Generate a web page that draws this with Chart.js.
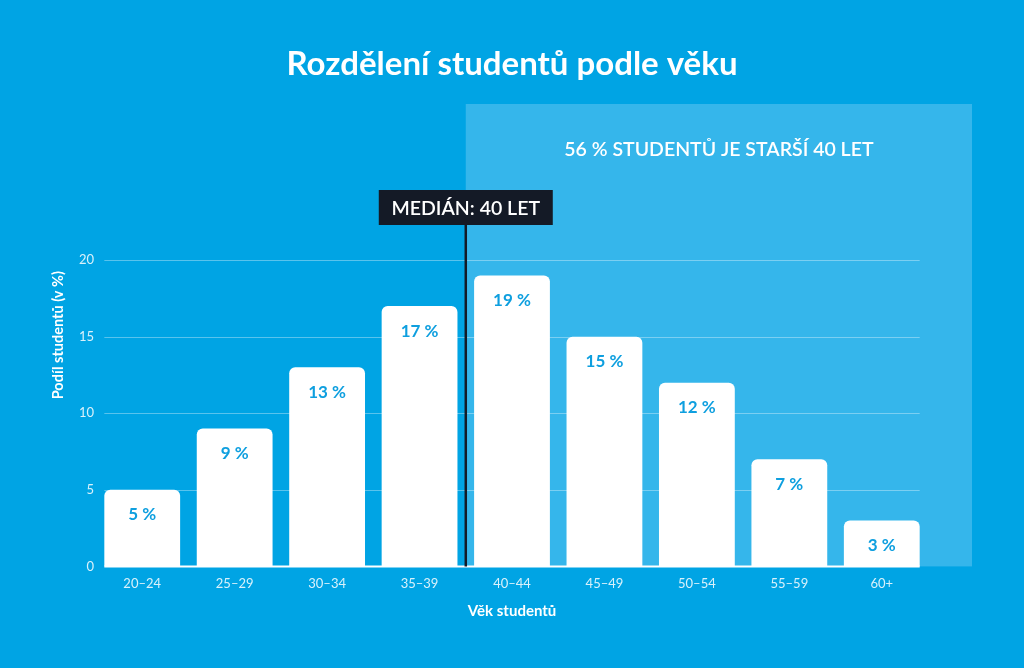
<!doctype html>
<html lang="cs">
  <head>
    <meta charset="utf-8">
    <title>Rozdělení studentů podle věku</title>
    <script src="https://cdn.jsdelivr.net/npm/chart.js"></script>
    <style>
      html, body { margin: 0; padding: 0; background: #00a4e4; }
      #wrap { width: 1024px; height: 668px; }
    </style>
  </head>
  <body>
    <div id="wrap"><canvas id="chart"></canvas></div>

    <script>
    // data
    const ageGroups = ['20–24', '25–29', '30–34', '35–39', '40–44', '45–49', '50–54', '55–59', '60+'];
    const shareOfStudents = [5, 9, 13, 17, 19, 15, 12, 7, 3];
    const yTickValues = [0, 5, 10, 15, 20];
    const medianIndex = 4;   // median falls on the boundary before 40–44
    const titleText = 'Rozdělení studentů podle věku';
    const medianText = 'MEDIÁN: 40 LET';
    const olderText = '56 % STUDENTŮ JE STARŠÍ 40 LET';

    const FONT = 'Lato, "Noto Sans", sans-serif';

    function medianX(chart) {
      const x = chart.scales.x;
      return (x.getPixelForValue(medianIndex - 1) + x.getPixelForValue(medianIndex)) / 2;
    }

    // lighter 40+ box, title, grid lines that stop at the outer bar edges
    const backPlugin = {
      id: 'back',
      beforeDatasetsDraw(chart) {
        const c = chart.ctx, y = chart.scales.y, a = chart.chartArea;
        const bars = chart.getDatasetMeta(0).data;
        const left = medianX(chart);
        const boxRight = chart.width - 52;
        c.save();
        c.fillStyle = '#35b6eb';
        c.fillRect(left, a.top, boxRight - left, a.bottom - a.top);
        c.fillStyle = '#ffffff';
        c.font = '600 19.5px ' + FONT;
        c.textAlign = 'center';
        c.textBaseline = 'middle';
        c.fillText(olderText, (left + boxRight) / 2, a.top + 46);

        c.font = 'bold 33px ' + FONT;
        c.fillText(titleText, chart.width / 2, 64);

        const gx0 = bars[0].x - bars[0].width / 2;
        const gx1 = bars[bars.length - 1].x + bars[bars.length - 1].width / 2;
        yTickValues.forEach(v => {
          const py = Math.round(y.getPixelForValue(v)) + 0.5;
          c.strokeStyle = v === 0 ? '#ffffff' : 'rgba(255,255,255,0.35)';
          c.lineWidth = v === 0 ? 2 : 1.2;
          c.beginPath();
          c.moveTo(gx0, py);
          c.lineTo(gx1, py);
          c.stroke();
        });
        c.restore();
      }
    };

    // value labels inside bars + median marker
    const overlayPlugin = {
      id: 'overlay',
      afterDatasetsDraw(chart) {
        const c = chart.ctx, a = chart.chartArea;
        const meta = chart.getDatasetMeta(0);
        c.save();
        c.fillStyle = '#0e9fdf';
        c.font = 'bold 17px ' + FONT;
        c.textAlign = 'center';
        c.textBaseline = 'middle';
        meta.data.forEach((bar, i) => {
          c.fillText(shareOfStudents[i] + ' %', bar.x, bar.y + 25);
        });

        const mx = medianX(chart);
        const boxTop = a.top + 86, boxH = 35, boxW = 174;
        c.strokeStyle = '#141a26';
        c.lineWidth = 2.5;
        c.beginPath();
        c.moveTo(mx, boxTop + boxH);
        c.lineTo(mx, a.bottom);
        c.stroke();
        c.fillStyle = '#141a26';
        c.fillRect(mx - boxW / 2, boxTop, boxW, boxH);
        c.fillStyle = '#ffffff';
        c.font = '600 19.5px ' + FONT;
        c.fillText(medianText, mx, boxTop + boxH / 2 + 1);
        c.restore();
      }
    };

    new Chart(document.getElementById('chart'), {
      type: 'bar',
      data: {
        labels: ageGroups,
        datasets: [{
          data: shareOfStudents,
          backgroundColor: '#ffffff',
          borderRadius: { topLeft: 6, topRight: 6 },
          borderSkipped: 'bottom',
          barPercentage: 0.82,
          categoryPercentage: 1
        }]
      },
      options: {
        responsive: true,
        maintainAspectRatio: false,
        animation: false,
        layout: { padding: { left: 0, right: 96, bottom: 44 } },
        plugins: {
          legend: { display: false },
          tooltip: { enabled: false },
          title: {
            // keeps the space; the text itself is drawn centred on the page
            display: true,
            text: titleText,
            color: 'rgba(0,0,0,0)',
            font: { family: FONT, size: 30, weight: 'bold' },
            padding: { top: 46, bottom: 22 }
          }
        },
        scales: {
          x: {
            grid: { display: false, drawTicks: false },
            border: { display: false },
            ticks: { color: 'rgba(255,255,255,0.85)', font: { family: FONT, size: 13 }, padding: 10 },
            title: {
              display: true,
              text: 'Věk studentů',
              color: '#ffffff',
              font: { family: FONT, size: 15, weight: 'bold' },
              padding: { top: 0 }
            }
          },
          y: {
            min: 0,
            max: 30.2,
            afterBuildTicks(s) { s.ticks = yTickValues.map(v => ({ value: v })); },
            afterFit(s) { s.width = 96; },
            grid: { display: false, drawTicks: false },
            border: { display: false },
            ticks: { color: 'rgba(255,255,255,0.85)', font: { family: FONT, size: 13 }, padding: 2 },
            title: {
              display: true,
              text: 'Podíl studentů (v %)',
              color: '#ffffff',
              font: { family: FONT, size: 14.5, weight: 'bold' },
              padding: { top: 50 }
            }
          }
        }
      },
      plugins: [backPlugin, overlayPlugin]
    });
    </script>
  </body>
</html>
